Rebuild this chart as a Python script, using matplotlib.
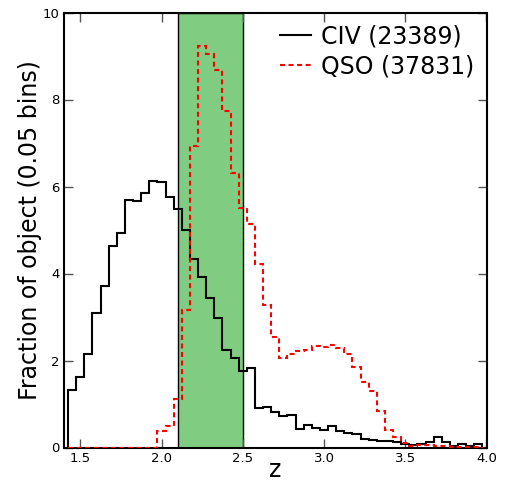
import numpy as np
import matplotlib
matplotlib.use("Agg")
import matplotlib.pyplot as plt

# bin edges (0.05 wide)
edges = np.round(np.arange(1.425, 3.976, 0.05), 3)

civ = [1.33, 1.63, 2.15, 3.10, 3.71, 4.63, 4.92, 5.70, 5.67, 5.85,
       6.12, 6.10, 5.75, 5.48, 5.00, 4.33, 3.92, 3.43, 2.98, 2.24,
       2.05, 1.76, 1.83, 0.90, 0.94, 0.81, 0.72, 0.74, 0.43, 0.51,
       0.44, 0.41, 0.50, 0.37, 0.34, 0.31, 0.19, 0.18, 0.16, 0.15,
       0.12, 0.08, 0.05, 0.08, 0.12, 0.24, 0.12, 0.04, 0.08, 0.03,
       0.07]

qso = [0.0, 0.0, 0.0, 0.0, 0.0, 0.0, 0.0, 0.0, 0.0, 0.0,
       0.0, 0.37, 0.50, 1.12, 3.17, 6.93, 9.23, 9.04, 8.67, 7.74,
       6.30, 5.50, 5.14, 4.22, 3.28, 2.53, 2.06, 2.15, 2.21, 2.25,
       2.33, 2.30, 2.35, 2.29, 2.15, 1.86, 1.51, 1.29, 0.85, 0.41,
       0.24, 0.11, 0.04, 0.05, 0.05, 0.04, 0.04, 0.02, 0.02, 0.01,
       0.01]

band = (2.1, 2.5)

fig = plt.figure(figsize=(5.07, 4.83), dpi=100)
ax = fig.add_axes([64 / 507, 1 - 447.5 / 483, 422.5 / 507, 435 / 483])

ax.axvspan(band[0], band[1], facecolor="#80cc80", edgecolor="black", lw=1, zorder=1)
ax.stairs(civ, edges, baseline=0, color="black", lw=1.5, label="CIV (23389)", zorder=3)
ax.stairs(qso, edges, baseline=0, color="red", lw=1.5, linestyle=(0, (2.4, 1.7)),
          label="QSO (37831)", zorder=3)

ax.set_xlim(1.4, 4.0)
ax.set_ylim(0, 10)
ax.set_xticks([1.5, 2.0, 2.5, 3.0, 3.5, 4.0])
ax.set_yticks([0, 2, 4, 6, 8, 10])
ax.tick_params(direction="in", length=6.5, width=1, color="#555555",
               top=True, right=True, labelsize=9.5, pad=3)
for s in ax.spines.values():
    s.set_linewidth(1.5)

ax.set_xlabel("z", fontsize=17, labelpad=-5)
ax.set_ylabel("Fraction of object (0.05 bins)", fontsize=17, labelpad=1)
ax.legend(loc="upper right", frameon=False, fontsize=17, handlelength=1.3,
          handletextpad=0.45, labelspacing=0.25, borderaxespad=0.1)

fig.savefig("out.png", dpi=100)
